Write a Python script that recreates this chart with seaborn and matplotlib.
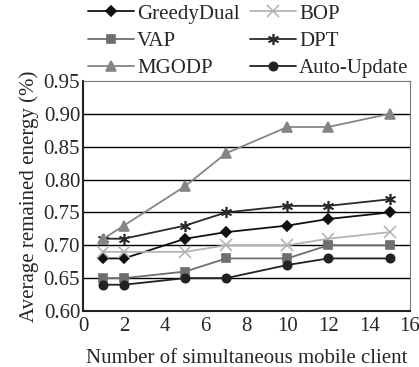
import numpy as np
import pandas as pd
import seaborn as sns
import matplotlib
matplotlib.use("Agg")
import matplotlib.pyplot as plt

# data
clients = [1, 2, 5, 7, 10, 12, 15]
greedy_dual = [0.68, 0.68, 0.71, 0.72, 0.73, 0.74, 0.75]
bop = [0.69, 0.69, 0.69, 0.70, 0.70, 0.71, 0.72]
vap = [0.65, 0.65, 0.66, 0.68, 0.68, 0.70, 0.70]
dpt = [0.71, 0.71, 0.73, 0.75, 0.76, 0.76, 0.77]
mgodp = [0.71, 0.73, 0.79, 0.84, 0.88, 0.88, 0.90]
auto_update = [0.64, 0.64, 0.65, 0.65, 0.67, 0.68, 0.68]

series = {
    "GreedyDual": greedy_dual,
    "BOP": bop,
    "VAP": vap,
    "DPT": dpt,
    "MGODP": mgodp,
    "Auto-Update": auto_update,
}
df = pd.DataFrame({"clients": clients, **series}).melt(
    id_vars="clients", var_name="method", value_name="energy")

sns.set_style("white")
plt.rcParams['font.family'] = ['Liberation Serif', 'DejaVu Serif']

colors = {"GreedyDual": "#111111", "BOP": "#b4b4b4", "VAP": "#6e6e6e",
          "DPT": "#2a2a2a", "MGODP": "#858585", "Auto-Update": "#222222"}
markers = {"GreedyDual": "D", "BOP": "x", "VAP": "s",
           "DPT": (6, 2, 0), "MGODP": "^", "Auto-Update": "o"}
sizes = {"GreedyDual": 5, "BOP": 8, "VAP": 6, "DPT": 8, "MGODP": 7, "Auto-Update": 6}

fig = plt.figure(figsize=(4.19, 3.67), dpi=100)
ax = fig.add_axes([83 / 419, 1 - 311 / 367, 327 / 419, 230 / 367])

for name in series:
    sub = df[df.method == name]
    sns.lineplot(data=sub, x="clients", y="energy", ax=ax, color=colors[name],
                 marker=markers[name], markersize=sizes[name], linewidth=1.3,
                 markeredgecolor=colors[name], markeredgewidth=1.2, label=name)

ax.set_xlim(0, 16)
ax.set_ylim(0.60, 0.95)
ax.set_xticks(range(0, 17, 2))
ax.set_yticks(np.arange(0.60, 0.951, 0.05))
ax.set_yticklabels([f"{v:.2f}" for v in np.arange(0.60, 0.951, 0.05)])
for v in np.arange(0.65, 0.91, 0.05):
    ax.axhline(v, color="black", linewidth=1.0, zorder=0)
for s in ax.spines.values():
    s.set_color("#777777")
ax.spines["left"].set_color("#222222")
ax.spines["bottom"].set_color("#222222")
ax.spines["left"].set_linewidth(1.5)
ax.spines["bottom"].set_linewidth(1.5)
ax.tick_params(axis="x", direction="in", length=4, width=1, labelsize=15, pad=4)
ax.tick_params(axis="y", length=0, labelsize=15, pad=2)
ax.set_xlabel("Number of simultaneous mobile client", fontsize=15, labelpad=10)
ax.set_ylabel("Average remained energy (%)", fontsize=15, labelpad=3)

# row-wise legend order: reorder handles so column filling matches
handles, labels = ax.get_legend_handles_labels()
order = [0, 2, 4, 1, 3, 5]
ax.legend([handles[i] for i in order], [labels[i] for i in order],
          loc="upper left", bbox_to_anchor=(88 / 419, 1 - 4 / 367),
          bbox_transform=fig.transFigure, ncol=2, frameon=False,
          fontsize=15, handlelength=2.2, handletextpad=0.15, columnspacing=0.5,
          labelspacing=0.37, borderaxespad=0, borderpad=0)

fig.savefig("out.png", dpi=100)
